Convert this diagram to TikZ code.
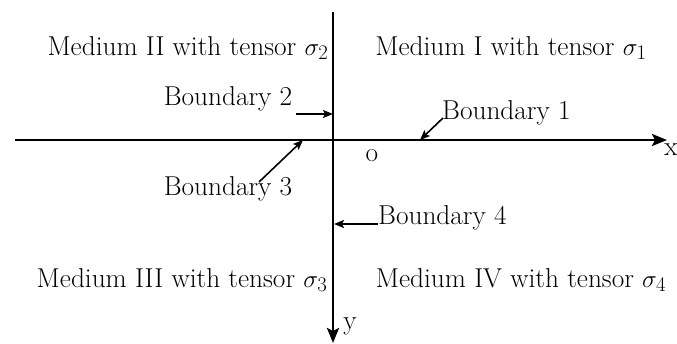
\documentclass[tikz,border=0pt]{standalone}
\usetikzlibrary{arrows.meta}
\begin{document}
\begin{tikzpicture}[x=1pt,y=-1pt,
  axis/.style={line width=2.6pt,-{Stealth[length=15pt,width=12pt,inset=3pt]}},
  ptr/.style={line width=1.6pt,-{Stealth[length=10pt,width=8pt,inset=2pt]}},
  lbl/.style={font=\fontsize{27.3}{32}\selectfont,inner sep=0pt}]
\useasboundingbox (0,0) rectangle (677,343);
\coordinate (xs) at (15,140);
\coordinate (xe) at (667,140);
\coordinate (ys) at (333,12);
\coordinate (ye) at (333,343);
\draw[axis] (xs) -- (xe);
\draw[axis] (ys) -- (ye);
\node[lbl] (xl) at (671,150) {x};
\node[lbl] (yl) at (350,326) {y};
\node[lbl] (o) at (372,156) {o};
\node[lbl] (m2) at (188,48) {Medium II with tensor $\sigma_2$};
\node[lbl] (m1) at (511,48) {Medium I with tensor $\sigma_1$};
\node[lbl] (m3) at (182,280) {Medium III with tensor $\sigma_3$};
\node[lbl] (m4) at (521,280) {Medium IV with tensor $\sigma_4$};
\node[lbl] (b2) at (228,99) {Boundary 2};
\node[lbl,anchor=west] (b1) at (442,113) {Boundary 1};
\node[lbl] (b3) at (228,189) {Boundary 3};
\node[lbl,anchor=west] (b4) at (378,218) {Boundary 4};
\coordinate (b2s) at (296,114);
\coordinate (b2e) at (333,114);
\coordinate (b1s) at (443,118);
\coordinate (b1e) at (420,140);
\coordinate (b3s) at (259,182);
\coordinate (b3e) at (303,140);
\coordinate (b4s) at (378,224);
\coordinate (b4e) at (334,224);
\draw[ptr] (b2s) -- (b2e);
\draw[ptr] (b1s) -- (b1e);
\draw[ptr] (b3s) -- (b3e);
\draw[ptr] (b4s) -- (b4e);
\end{tikzpicture}
\end{document}
